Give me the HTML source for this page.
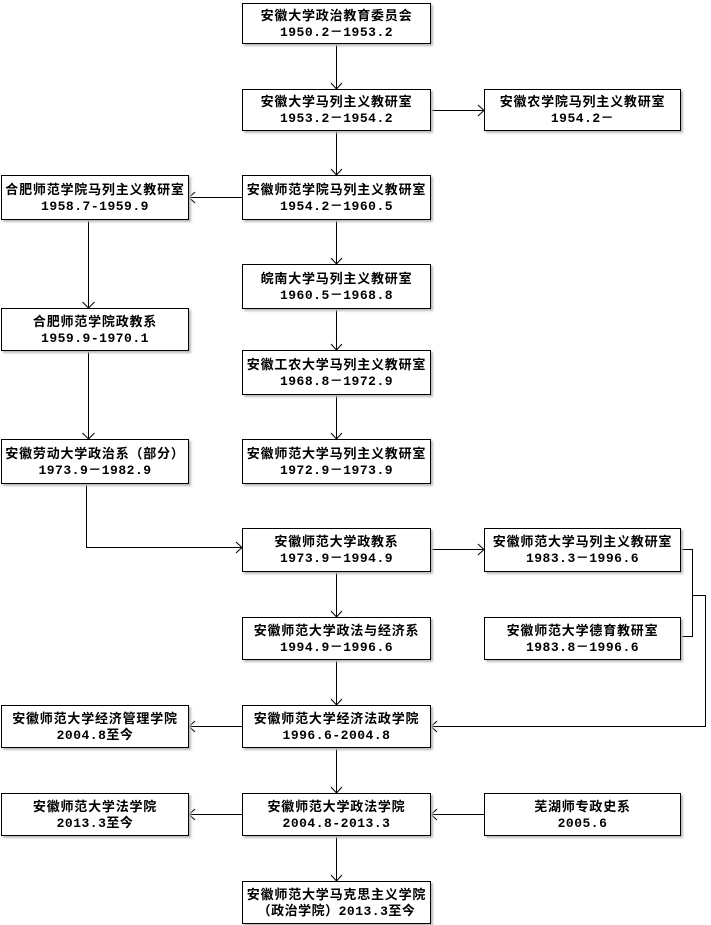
<!DOCTYPE html>
<html><head><meta charset="utf-8"><style>
body{margin:0;width:711px;height:925px;background:#fff;position:relative;overflow:hidden;font-family:"Liberation Sans","Noto Sans CJK SC","WenQuanYi Zen Hei",sans-serif;}
.b{position:absolute;box-sizing:border-box;border:1px solid #000;background:#fff;font-size:13px;letter-spacing:0.8px;font-weight:bold;line-height:17px;text-align:center;display:flex;flex-direction:column;justify-content:center;color:#000;box-shadow:2px 2px 2px #bbb;white-space:nowrap;}
.b span{font-family:"Liberation Mono","Noto Sans CJK SC",monospace;letter-spacing:0.5px;}
svg{position:absolute;left:0;top:0}
</style></head><body>
<svg width="711" height="925" fill="none" stroke="#000" stroke-width="1">
<g>
<path d="M336.5 44V89M336.5 131V175M336.5 220V264M336.5 309V350M336.5 395V439M336.5 572V617M336.5 660V705M336.5 748V793M336.5 836V881"/>
<path d="M431 110.5H484M242 197.5H189M88.5 220V308M88.5 351V439M86.5 484V547.5H242M431 549.5H484M681 549.5H692.5V636.5H681M692.5 595.5H705.5V726.5H431M242 726.5H189M242 814.5H189M484 814.5H431"/>
</g>
<g stroke-width="1">
<path d="M331 83L336.5 89L342 83M331 169L336.5 175L342 169M331 258L336.5 264L342 258M331 344L336.5 350L342 344M331 433L336.5 439L342 433M331 611L336.5 617L342 611M331 699L336.5 705L342 699M331 787L336.5 793L342 787M331 875L336.5 881L342 875"/>
<path d="M82.5 302L88.5 308L94.5 302M82.5 433L88.5 439L94.5 433"/>
<path d="M478 105L484 110.5L478 116M478 544L484 549.5L478 555M236 542L242 547.5L236 553"/>
<path d="M195 192L189 197.5L195 203M195 721L189 726.5L195 732M195 809L189 814.5L195 820M437 721L431 726.5L437 732M437 809L431 814.5L437 820"/>
</g>
</svg>
<div class="b" style="left:242px;top:3px;width:189px;height:41px">安徽大学政治教育委员会<span>1950.2－1953.2</span></div>
<div class="b" style="left:242px;top:89px;width:189px;height:42px">安徽大学马列主义教研室<span>1953.2－1954.2</span></div>
<div class="b" style="left:484px;top:89px;width:197px;height:42px">安徽农学院马列主义教研室<span>1954.2－</span></div>
<div class="b" style="left:242px;top:175px;width:189px;height:45px">安徽师范学院马列主义教研室<span>1954.2－1960.5</span></div>
<div class="b" style="left:1px;top:175px;width:188px;height:45px">合肥师范学院马列主义教研室<span>1958.7-1959.9</span></div>
<div class="b" style="left:242px;top:264px;width:189px;height:45px">皖南大学马列主义教研室<span>1960.5－1968.8</span></div>
<div class="b" style="left:1px;top:308px;width:188px;height:43px">合肥师范学院政教系<span>1959.9-1970.1</span></div>
<div class="b" style="left:242px;top:350px;width:189px;height:45px">安徽工农大学马列主义教研室<span>1968.8－1972.9</span></div>
<div class="b" style="left:1px;top:439px;width:188px;height:45px">安徽劳动大学政治系（部分）<span>1973.9－1982.9</span></div>
<div class="b" style="left:242px;top:439px;width:189px;height:45px">安徽师范大学马列主义教研室<span>1972.9－1973.9</span></div>
<div class="b" style="left:242px;top:528px;width:189px;height:44px">安徽师范大学政教系<span>1973.9－1994.9</span></div>
<div class="b" style="left:484px;top:528px;width:197px;height:44px">安徽师范大学马列主义教研室<span>1983.3－1996.6</span></div>
<div class="b" style="left:242px;top:617px;width:189px;height:43px">安徽师范大学政法与经济系<span>1994.9－1996.6</span></div>
<div class="b" style="left:484px;top:617px;width:197px;height:43px">安徽师范大学德育教研室<span>1983.8－1996.6</span></div>
<div class="b" style="left:242px;top:705px;width:189px;height:43px">安徽师范大学经济法政学院<span>1996.6-2004.8</span></div>
<div class="b" style="left:1px;top:705px;width:188px;height:43px">安徽师范大学经济管理学院<span>2004.8至今</span></div>
<div class="b" style="left:242px;top:793px;width:189px;height:43px">安徽师范大学政法学院<span>2004.8-2013.3</span></div>
<div class="b" style="left:1px;top:793px;width:188px;height:43px">安徽师范大学法学院<span>2013.3至今</span></div>
<div class="b" style="left:484px;top:793px;width:197px;height:43px">芜湖师专政史系<span>2005.6</span></div>
<div class="b" style="left:242px;top:881px;width:189px;height:43px">安徽师范大学马克思主义学院<span>（政治学院）2013.3至今</span></div>
</body></html>
